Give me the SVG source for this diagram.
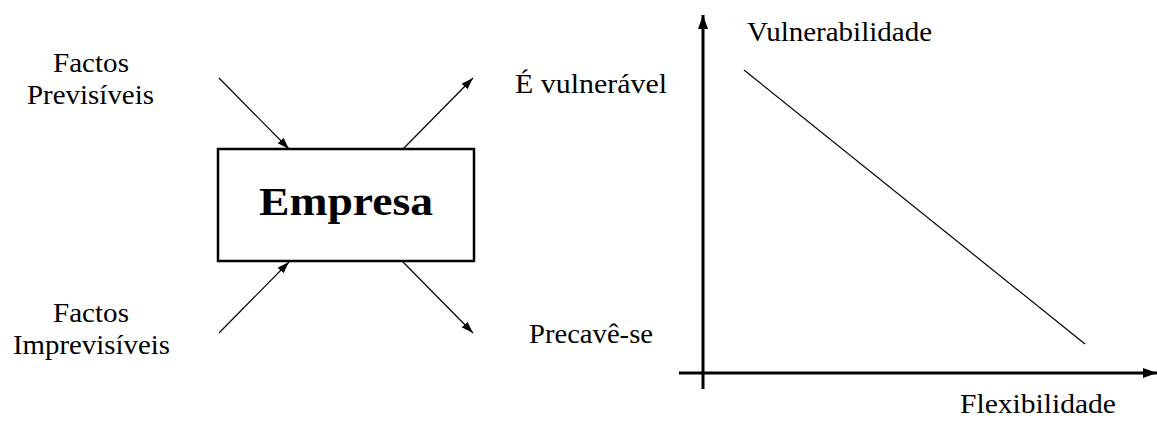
<svg xmlns="http://www.w3.org/2000/svg" width="1157" height="422" viewBox="0 0 1157 422">
<defs>
<style>
.t{font-family:"Liberation Serif","Times New Roman",serif;font-size:27px;fill:#000}
.b{font-family:"Liberation Serif","Times New Roman",serif;font-size:40px;font-weight:bold;fill:#000}
.thin{stroke:#000;stroke-width:1.2;fill:none}
.axis{stroke:#000;stroke-width:3;fill:none}
</style>
<marker id="ah" markerUnits="userSpaceOnUse" markerWidth="14" markerHeight="10" refX="12" refY="4" orient="auto">
<path d="M0,0 L12,4 L0,8 Z" fill="#000"/>
</marker>
<marker id="ah2" markerUnits="userSpaceOnUse" markerWidth="16" markerHeight="12" refX="14" refY="5" orient="auto">
<path d="M0,0 L14,5 L0,10 Z" fill="#000"/>
</marker>
</defs>
<rect width="1157" height="422" fill="#fff"/>
<g id="empresa">
<rect x="218" y="149" width="256" height="112" fill="none" stroke="#000" stroke-width="2.5"/>
<text class="b" x="346" y="215" text-anchor="middle" textLength="174" lengthAdjust="spacingAndGlyphs">Empresa</text>
</g>
<g id="previsiveis">
<text class="t" x="91" y="72" text-anchor="middle" textLength="76" lengthAdjust="spacingAndGlyphs">Factos</text>
<text class="t" x="90.5" y="104" text-anchor="middle" textLength="127" lengthAdjust="spacingAndGlyphs">Previsíveis</text>
</g>
<g id="imprevisiveis">
<text class="t" x="91" y="322" text-anchor="middle" textLength="76" lengthAdjust="spacingAndGlyphs">Factos</text>
<text class="t" x="91.5" y="354" text-anchor="middle" textLength="157" lengthAdjust="spacingAndGlyphs">Imprevisíveis</text>
</g>
<g id="vulneravel">
<text class="t" x="515" y="93" textLength="152" lengthAdjust="spacingAndGlyphs">É vulnerável</text>
</g>
<g id="precave">
<text class="t" x="529" y="343" textLength="124" lengthAdjust="spacingAndGlyphs">Precavê-se</text>
</g>
<g id="graph">
<line class="axis" x1="703" y1="389" x2="703" y2="15" marker-end="url(#ah2)"/>
<line class="axis" x1="679" y1="373" x2="1157" y2="373" marker-end="url(#ah2)"/>
<line class="thin" x1="744" y1="70" x2="1085" y2="344"/>
<text class="t" x="747" y="41" textLength="185" lengthAdjust="spacingAndGlyphs">Vulnerabilidade</text>
<text class="t" x="960" y="413" textLength="156" lengthAdjust="spacingAndGlyphs">Flexibilidade</text>
</g>
<g id="connectors">
<line class="thin" x1="219" y1="78" x2="289" y2="149" marker-end="url(#ah)"/>
<line class="thin" x1="403" y1="149" x2="473" y2="78" marker-end="url(#ah)"/>
<line class="thin" x1="219" y1="333" x2="289" y2="262" marker-end="url(#ah)"/>
<line class="thin" x1="403" y1="262" x2="473" y2="333" marker-end="url(#ah)"/>
</g>
</svg>
